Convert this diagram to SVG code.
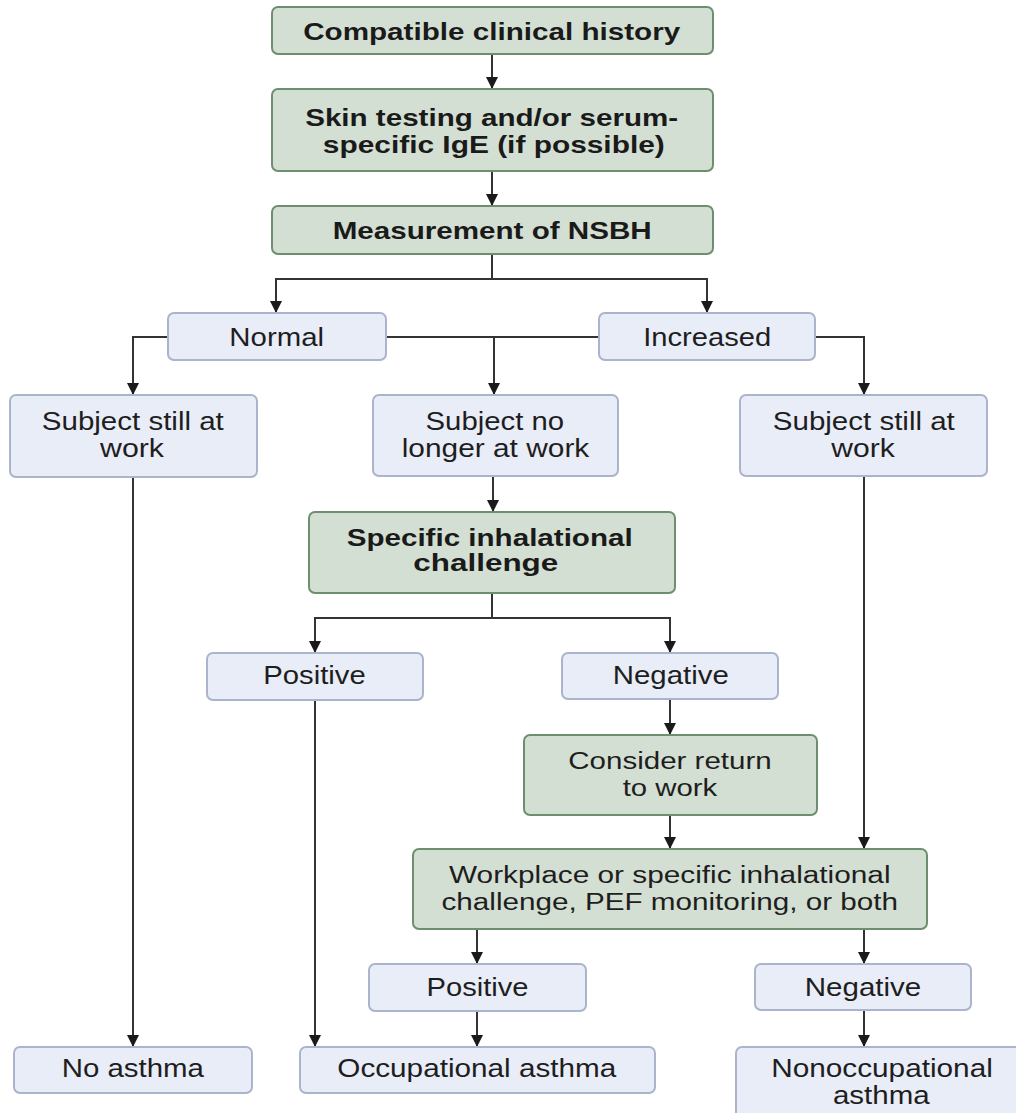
<svg xmlns="http://www.w3.org/2000/svg" width="1016" height="1113" viewBox="0 0 1016 1113">
<style>
.g{fill:#d4dfd3;stroke:#6e8f6f;stroke-width:2}
.b{fill:#e9edf8;stroke:#aab4cc;stroke-width:2}
.t{font-family:"Liberation Sans",Arial,sans-serif;font-size:25px;fill:#1e1e1e;text-anchor:middle}
.tb{font-family:"Liberation Sans",Arial,sans-serif;font-size:24px;font-weight:bold;fill:#1a1a1a;text-anchor:middle}
.tg{font-family:"Liberation Sans",Arial,sans-serif;font-size:23.5px;fill:#1e1e1e;text-anchor:middle}
.c{fill:none;stroke:#333333;stroke-width:2}
.a{marker-end:url(#ah)}
</style>
<defs>
<marker id="ah" markerUnits="userSpaceOnUse" markerWidth="14" markerHeight="12" refX="12" refY="6" orient="auto">
<path d="M0,0 L12,6 L0,12 z" fill="#1a1a1a"/>
</marker>
</defs>
<rect width="1016" height="1113" fill="#ffffff"/>
<g id="connectors">
<path class="c a" d="M492,54 V89"/>
<path class="c a" d="M492,171 V206"/>
<path class="c a" d="M492,254 V279 H276 V313"/>
<path class="c a" d="M492,279 H707 V313"/>
<path class="c a" d="M168,337 H133 V395"/>
<path class="c" d="M386,337 H599"/>
<path class="c a" d="M494,337 V395"/>
<path class="c a" d="M815,337 H864 V395"/>
<path class="c a" d="M133,477 V1047"/>
<path class="c a" d="M493,476 V512"/>
<path class="c a" d="M492,593 V618 H315 V653"/>
<path class="c a" d="M492,618 H670 V653"/>
<path class="c a" d="M315,700 V1047"/>
<path class="c a" d="M670,699 V735"/>
<path class="c a" d="M670,815 V849"/>
<path class="c a" d="M864,476 V849"/>
<path class="c a" d="M477,929 V964"/>
<path class="c a" d="M864,929 V964"/>
<path class="c a" d="M477,1011 V1047"/>
<path class="c a" d="M864,1010 V1047"/>
</g>
<g id="n-history">
<rect class="g" x="272" y="7" width="441" height="47" rx="6"/>
<text class="tb" x="491.7" y="39.5" textLength="377" lengthAdjust="spacingAndGlyphs">Compatible clinical history</text>
</g>
<g id="n-skin">
<rect class="g" x="272" y="89" width="441" height="82" rx="6"/>
<text class="tb" x="491.7" y="126" textLength="373" lengthAdjust="spacingAndGlyphs">Skin testing and/or serum-</text>
<text class="tb" x="493.8" y="152.5" textLength="342" lengthAdjust="spacingAndGlyphs">specific IgE (if possible)</text>
</g>
<g id="n-nsbh">
<rect class="g" x="272" y="206" width="441" height="48" rx="6"/>
<text class="tb" x="492.2" y="238.5" textLength="319" lengthAdjust="spacingAndGlyphs">Measurement of NSBH</text>
</g>
<g id="n-normal">
<rect class="b" x="168" y="313" width="218" height="47" rx="6"/>
<text class="t" x="276.7" y="346" textLength="94.7" lengthAdjust="spacingAndGlyphs">Normal</text>
</g>
<g id="n-increased">
<rect class="b" x="599" y="313" width="216" height="47" rx="6"/>
<text class="t" x="707.2" y="345.5" textLength="128" lengthAdjust="spacingAndGlyphs">Increased</text>
</g>
<g id="n-still-left">
<rect class="b" x="10" y="395" width="247" height="82" rx="6"/>
<text class="t" x="132.8" y="429.5" textLength="182" lengthAdjust="spacingAndGlyphs">Subject still at</text>
<text class="t" x="132" y="456.5" textLength="64" lengthAdjust="spacingAndGlyphs">work</text>
</g>
<g id="n-nolonger">
<rect class="b" x="373" y="395" width="245" height="81" rx="6"/>
<text class="t" x="494.8" y="430" textLength="138.5" lengthAdjust="spacingAndGlyphs">Subject no</text>
<text class="t" x="495.5" y="456.7" textLength="187.6" lengthAdjust="spacingAndGlyphs">longer at work</text>
</g>
<g id="n-still-right">
<rect class="b" x="740" y="395" width="247" height="81" rx="6"/>
<text class="t" x="863.8" y="429.5" textLength="182" lengthAdjust="spacingAndGlyphs">Subject still at</text>
<text class="t" x="863" y="456.5" textLength="63.5" lengthAdjust="spacingAndGlyphs">work</text>
</g>
<g id="n-sic">
<rect class="g" x="309" y="512" width="366" height="81" rx="6"/>
<text class="tb" x="489.7" y="546" textLength="286" lengthAdjust="spacingAndGlyphs">Specific inhalational</text>
<text class="tb" x="485.8" y="571" textLength="145" lengthAdjust="spacingAndGlyphs">challenge</text>
</g>
<g id="n-positive1">
<rect class="b" x="207" y="653" width="216" height="47" rx="6"/>
<text class="t" x="314.5" y="684" textLength="102.4" lengthAdjust="spacingAndGlyphs">Positive</text>
</g>
<g id="n-negative1">
<rect class="b" x="562" y="653" width="216" height="46" rx="6"/>
<text class="t" x="670.8" y="684" textLength="116" lengthAdjust="spacingAndGlyphs">Negative</text>
</g>
<g id="n-consider">
<rect class="g" x="524" y="735" width="293" height="80" rx="6"/>
<text class="tg" x="670" y="769" textLength="203.4" lengthAdjust="spacingAndGlyphs">Consider return</text>
<text class="tg" x="670" y="796" textLength="94.6" lengthAdjust="spacingAndGlyphs">to work</text>
</g>
<g id="n-workplace">
<rect class="g" x="413" y="849" width="514" height="80" rx="6"/>
<text class="tg" x="669.8" y="882.7" textLength="441.5" lengthAdjust="spacingAndGlyphs">Workplace or specific inhalational</text>
<text class="tg" x="669.8" y="910" textLength="456.5" lengthAdjust="spacingAndGlyphs">challenge, PEF monitoring, or both</text>
</g>
<g id="n-positive2">
<rect class="b" x="369" y="964" width="217" height="47" rx="6"/>
<text class="t" x="477.5" y="996" textLength="102" lengthAdjust="spacingAndGlyphs">Positive</text>
</g>
<g id="n-negative2">
<rect class="b" x="755" y="964" width="216" height="46" rx="6"/>
<text class="t" x="863" y="995.5" textLength="116.6" lengthAdjust="spacingAndGlyphs">Negative</text>
</g>
<g id="n-noasthma">
<rect class="b" x="14" y="1047" width="238" height="46" rx="6"/>
<text class="t" x="132.8" y="1077" textLength="142.3" lengthAdjust="spacingAndGlyphs">No asthma</text>
</g>
<g id="n-occupational">
<rect class="b" x="300" y="1047" width="355" height="46" rx="6"/>
<text class="t" x="476.8" y="1077" textLength="279" lengthAdjust="spacingAndGlyphs">Occupational asthma</text>
</g>
<g id="n-nonoccupational">
<rect class="b" x="736" y="1047" width="290" height="80" rx="6"/>
<text class="t" x="882" y="1077" textLength="221.7" lengthAdjust="spacingAndGlyphs">Nonoccupational</text>
<text class="t" x="881.3" y="1103.5" textLength="96.7" lengthAdjust="spacingAndGlyphs">asthma</text>
</g>
</svg>
